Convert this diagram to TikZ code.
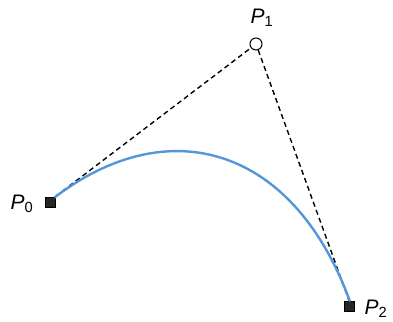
\documentclass[tikz,border=0pt]{standalone}
\usepackage{fontspec}
\setmainfont{Liberation Sans}
\usetikzlibrary{calc}
\definecolor{curveblue}{RGB}{84,150,218}
\begin{document}
\begin{tikzpicture}[x=1pt,y=-1pt,
  ctrlsq/.style={draw=black,fill=black!85,minimum size=10.5pt,inner sep=0pt},
  ctrlcirc/.style={circle,draw=black,fill=white,minimum size=12pt,inner sep=0pt,line width=1pt},
  lbl/.style={font=\fontsize{21}{24}\selectfont\itshape,inner sep=0pt},
  guide/.style={dashed,dash pattern=on 5pt off 3.5pt,line width=1.4pt},
  bez/.style={curveblue,line width=2.4pt}]
\useasboundingbox (0,0) rectangle (393,321);
\node[ctrlsq] (p0) at (50,202) {};
\node[ctrlcirc] (p1) at (256,44) {};
\node[ctrlsq] (p2) at (349,306) {};
\node[lbl] (l0) at (22,204) {P\textsubscript{\upshape 0}};
\node[lbl] (l1) at (262,18) {P\textsubscript{\upshape 1}};
\node[lbl] (l2) at (376,309) {P\textsubscript{\upshape 2}};
\draw[guide] (p0.north east) -- (p1);
\draw[guide] (p1) -- (p2.north);
\coordinate (c0) at (54.5,197.5);
\coordinate (c2) at (350,301.5);
\draw[bez] (c0) .. controls ($(c0)!0.57!(p1.center)$) and ($(c2)!0.6!(p1.center)$) .. (c2);
\end{tikzpicture}
\end{document}
